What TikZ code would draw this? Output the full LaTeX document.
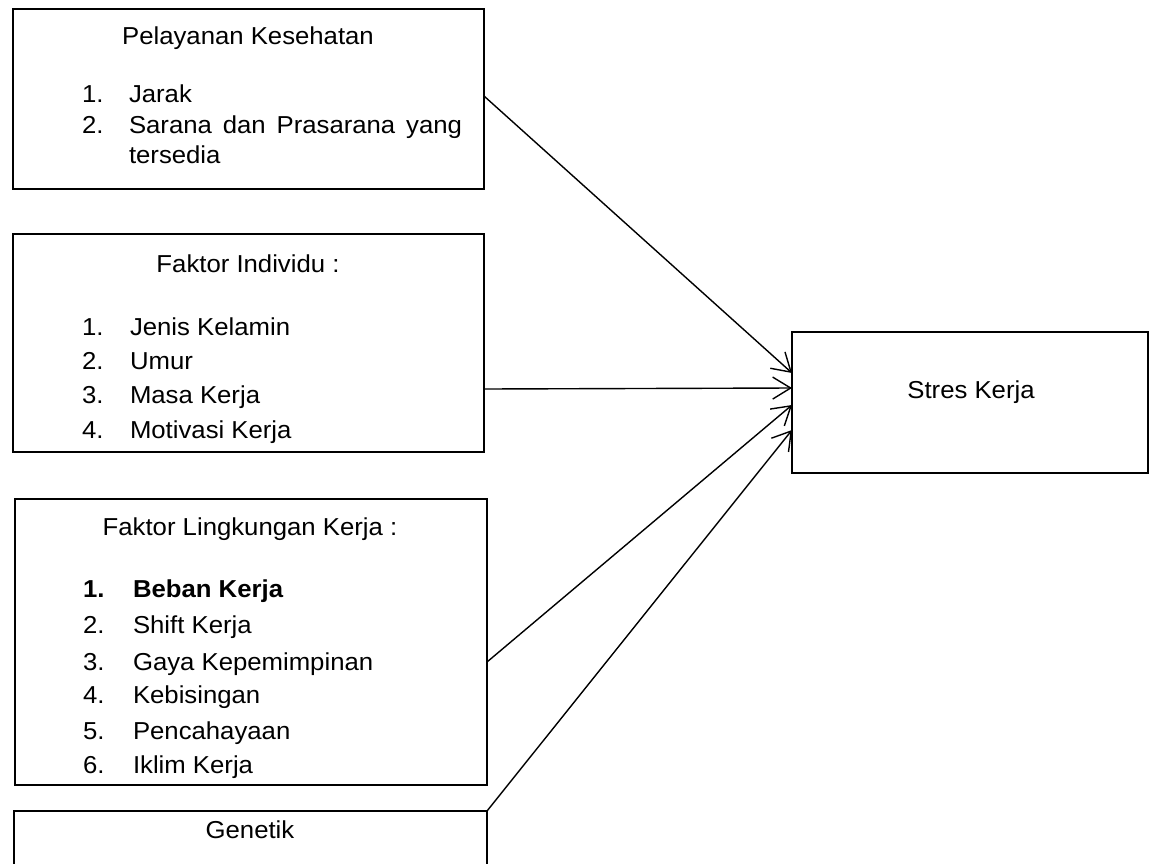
\documentclass[tikz,border=0pt]{standalone}
\usepackage{fontspec}
\setmainfont{Liberation Sans}[FakeStretch=1.05]
\usetikzlibrary{arrows.meta,calc}
\begin{document}
\begin{tikzpicture}[x=1pt,y=-1pt,
  box/.style={draw=black,line width=1.8pt,rectangle,inner sep=0pt,outer sep=0pt},
  txt/.style={inner sep=0pt,outer sep=0pt,font=\fontsize{24.5}{29}\selectfont},
  lt/.style={txt,anchor=base west},
  ct/.style={txt,anchor=base},
  conn/.style={line width=1.4pt,-{Straight Barb[length=18pt,width=22pt,line width=1.4pt]}}]
\useasboundingbox (0,0) rectangle (1154,863);
\fill[white] (0,0) rectangle (1154,863);
% boxes
\node[box,minimum width=471pt,minimum height=180pt] (b1) at (248.5,99) {};
\node[box,minimum width=471pt,minimum height=218pt] (b2) at (248.5,343) {};
\node[box,minimum width=472pt,minimum height=286pt] (b3) at (251,642) {};
\node[box,minimum width=473pt,minimum height=70pt] (b4) at (250.5,846) {};
\node[box,minimum width=356pt,minimum height=141pt] (s) at (970,402.5) {};
% box 1 text
\node[ct] (t1) at (248,44) {Pelayanan Kesehatan};
\node[lt] (n11) at (82,102.7) {1.};
\node[lt] (i11) at (129,102.7) {Jarak};
\node[lt] (n12) at (82,133) {2.};
\node[lt] (i12) at (129,133) {\makebox[333pt][s]{Sarana dan Prasarana yang}};
\node[lt] (i13) at (129,163) {tersedia};
% box 2 text
\node[ct] (t2) at (248,272) {Faktor Individu :};
\node[lt] (n21) at (82,335) {1.};
\node[lt] (i21) at (130,335) {Jenis Kelamin};
\node[lt] (n22) at (82,369) {2.};
\node[lt] (i22) at (130,369) {Umur};
\node[lt] (n23) at (82,403) {3.};
\node[lt] (i23) at (130,403) {Masa Kerja};
\node[lt] (n24) at (82,438) {4.};
\node[lt] (i24) at (130,438) {Motivasi Kerja};
% box 3 text
\node[ct] (t3) at (250,535.7) {Faktor Lingkungan Kerja :};
\node[lt,font=\fontsize{24.5}{29}\selectfont\bfseries] (n31) at (83,597.7) {1.};
\node[lt,font=\fontsize{24.5}{29}\selectfont\bfseries] (i31) at (133,597.7) {Beban Kerja};
\node[lt] (n32) at (83,633) {2.};
\node[lt] (i32) at (133,633) {Shift Kerja};
\node[lt] (n33) at (83,670) {3.};
\node[lt] (i33) at (133,670) {Gaya Kepemimpinan};
\node[lt] (n34) at (83,703) {4.};
\node[lt] (i34) at (133,703) {Kebisingan};
\node[lt] (n35) at (83,739) {5.};
\node[lt] (i35) at (133,739) {Pencahayaan};
\node[lt] (n36) at (83,773) {6.};
\node[lt] (i36) at (133,773) {Iklim Kerja};
% box 4 and target text
\node[ct] (t4) at (250,838) {Genetik};
\node[ct] (ts) at (971,398) {Stres Kerja};
% connectors
\draw[conn] ([yshift=3pt]b1.east) -- ([yshift=29.5pt]s.west);
\draw[conn] ([yshift=-46pt]b2.east) -- ([yshift=14.5pt]s.west);
\draw[conn] ([yshift=-20pt]b3.east) -- ([yshift=-2.5pt]s.west);
\draw[conn] (b4.north east) -- ([yshift=-27.5pt]s.west);
\end{tikzpicture}
\end{document}
